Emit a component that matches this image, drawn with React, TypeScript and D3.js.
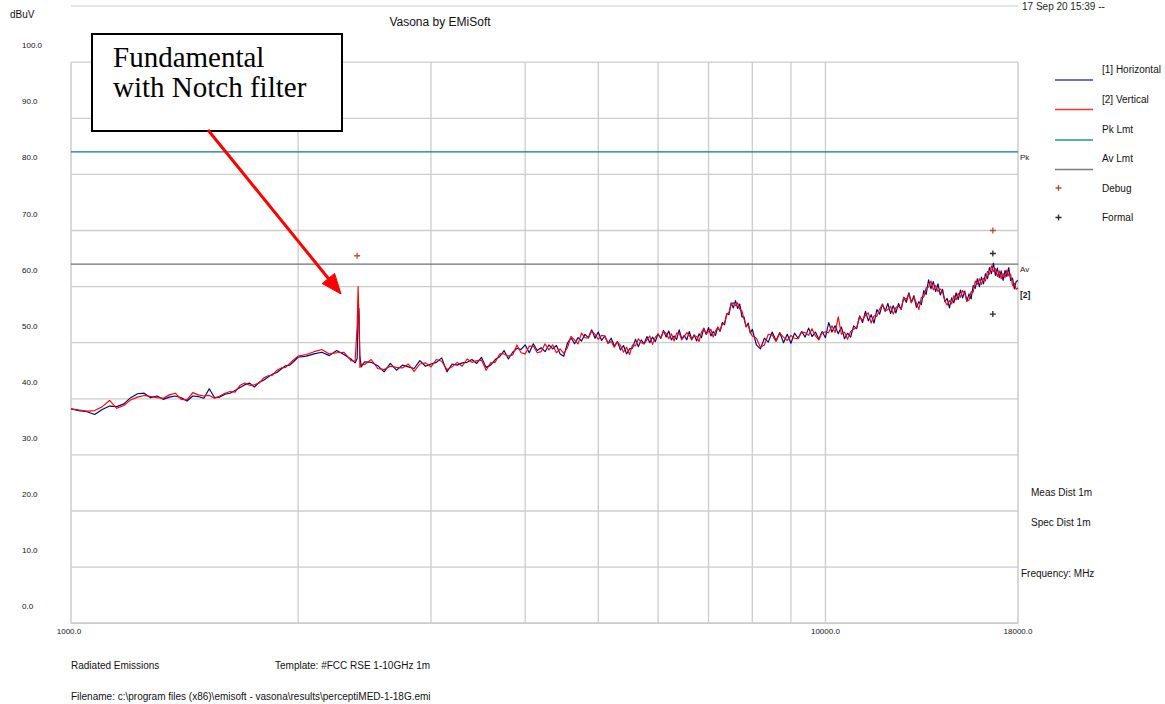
import React from "react";
import * as d3 from "d3";

// Frequency grid (MHz)
const freqs: number[] = [
  1000, 1025, 1050, 1075, 1100, 1125, 1150, 1175, 1200, 1225,
  1250, 1275, 1300, 1325, 1350, 1375, 1400, 1425, 1450, 1475,
  1500, 1525, 1550, 1575, 1600, 1625, 1650, 1675, 1700, 1725,
  1750, 1775, 1800, 1825, 1850, 1875, 1900, 1925, 1950, 1975, 2000,
  2050, 2100, 2150, 2200, 2250, 2300, 2350, 2380, 2395, 2402, 2408, 2415, 2425, 2450,
  2500, 2550, 2600, 2650, 2700, 2750, 2800, 2850, 2900, 2950,
  3000, 3050, 3100, 3150, 3200, 3250, 3300, 3350, 3400, 3450,
  3500, 3550, 3600, 3650, 3700, 3750, 3800, 3850, 3900, 3950, 4000,
  4050, 4100, 4150, 4200, 4250, 4300, 4350, 4400, 4450, 4500,
  4550, 4600, 4650, 4700, 4750, 4800, 4850, 4900, 4950, 5000,
  5050, 5100, 5150, 5200, 5250, 5300, 5350, 5400, 5450, 5500,
  5550, 5600, 5650, 5700, 5750, 5800, 5850, 5900, 5950, 6000,
  6050, 6100, 6150, 6200, 6250, 6300, 6350, 6400, 6450, 6500,
  6550, 6600, 6650, 6700, 6750, 6800, 6850, 6900, 6950, 7000,
  7050, 7100, 7150, 7200, 7250, 7300, 7350, 7400, 7450, 7500,
  7550, 7600, 7650, 7700, 7750, 7800, 7850, 7900, 7950, 8000,
  8100, 8200, 8300, 8400, 8500, 8600, 8700, 8800, 8900, 9000,
  9100, 9200, 9300, 9400, 9500, 9600, 9700, 9800, 9900, 10000,
  10100, 10200, 10300, 10400, 10500, 10600, 10700, 10800, 10900, 11000,
  11100, 11200, 11300, 11400, 11500, 11600, 11700, 11800, 11900, 12000,
  12100, 12200, 12300, 12400, 12500, 12600, 12700, 12800, 12900, 13000,
  13100, 13200, 13300, 13400, 13500, 13600, 13700, 13800, 13900, 14000,
  14100, 14200, 14300, 14400, 14500, 14600, 14700, 14800, 14900, 15000,
  15100, 15200, 15300, 15400, 15500, 15600, 15700, 15800, 15900, 16000,
  16100, 16200, 16300, 16400, 16500, 16600, 16700, 16800, 16900, 17000,
  17100, 17200, 17300, 17400, 17500, 17600, 17700, 17800, 17900, 18000,
];

// [1] Horizontal (dBuV)
const horizontal: number[] = [
  38.2, 37.9, 37.7, 37.2, 38.1, 38.7, 38.6, 39.1, 40.2, 40.9,
  41.0, 40.2, 40.5, 39.9, 40.3, 40.5, 40.2, 39.6, 40.5, 40.4,
  40.1, 41.8, 40.2, 40.3, 40.8, 41.0, 41.5, 42.0, 42.5, 42.8,
  42.1, 42.9, 43.3, 43.9, 44.4, 44.7, 45.3, 45.9, 46.0, 46.7, 47.4,
  47.6, 48.0, 48.3, 47.7, 48.6, 47.9, 47.1, 46.4, 47.2, 56.4, 56.0, 47.6, 45.7, 46.6,
  46.5, 45.9, 44.8, 46.3, 45.1, 46.0, 45.7, 45.4, 46.8, 45.8,
  46.2, 46.5, 47.3, 44.8, 46.2, 46.0, 46.4, 46.5, 47.0, 46.3,
  47.4, 45.6, 46.0, 47.0, 47.5, 48.6, 47.1, 48.3, 49.0, 48.8, 49.6,
  48.2, 49.8, 48.6, 49.1, 48.4, 49.6, 48.9, 49.5, 48.0, 47.6,
  49.9, 50.9, 49.8, 50.9, 50.3, 51.5, 50.9, 52.3, 50.8, 51.9,
  50.4, 51.2, 49.9, 50.8, 49.4, 50.2, 48.7, 49.5, 48.0, 48.9,
  49.0, 50.6, 49.3, 50.5, 49.8, 51.1, 50.0, 51.0, 50.2, 51.6,
  50.8, 52.2, 51.0, 52.1, 50.5, 51.2, 50.6, 52.3, 50.7, 51.3,
  50.5, 52.0, 50.6, 51.4, 50.3, 51.6, 50.9, 52.6, 51.5, 52.7,
  51.2, 52.0, 51.3, 52.8, 52.0, 53.6, 53.2, 55.2, 55.0, 57.1,
  56.2, 57.5, 56.1, 56.9, 54.6, 54.6, 52.8, 53.5, 51.7, 52.4,
  49.6, 48.9, 50.8, 50.1, 51.9, 50.4, 51.8, 50.0, 51.5, 49.9,
  51.7, 50.8, 52.0, 51.0, 52.6, 51.1, 51.9, 50.6, 52.0, 50.9,
  53.6, 51.9, 53.0, 51.6, 52.8, 50.7, 51.7, 51.0, 53.0, 52.5,
  54.8, 53.6, 55.6, 53.9, 55.0, 53.5, 55.9, 55.1, 56.9, 55.6,
  57.0, 55.2, 56.6, 55.3, 57.0, 55.9, 58.1, 57.2, 58.9, 57.2,
  58.4, 56.3, 57.3, 56.8, 59.3, 58.6, 61.2, 59.6, 60.9, 59.1,
  60.5, 58.5, 59.5, 57.3, 57.9, 56.2, 58.0, 57.1, 58.9, 57.7,
  59.4, 58.0, 59.2, 57.4, 58.7, 57.8, 60.2, 59.7, 61.4, 60.0,
  61.7, 60.5, 62.3, 61.4, 63.4, 62.3, 64.2, 62.0, 63.3, 61.6,
  62.8, 61.1, 62.9, 61.8, 63.4, 61.1, 61.5, 59.6, 60.9, 61.1,
];

// [2] Vertical (dBuV)
const vertical: number[] = [
  38.2, 38.0, 37.8, 37.9, 38.6, 39.7, 38.3, 38.8, 39.8, 40.3,
  40.6, 40.4, 40.2, 40.1, 40.7, 41.0, 39.9, 39.8, 41.1, 40.7,
  40.5, 40.6, 40.1, 40.5, 41.0, 41.3, 41.2, 42.4, 42.8, 42.4,
  42.5, 42.8, 43.7, 44.1, 44.2, 45.1, 45.5, 45.6, 46.3, 47.0, 47.6,
  47.9, 48.4, 48.8, 48.0, 48.2, 48.3, 46.8, 46.7, 53.0, 60.0, 54.5, 45.6, 46.2, 46.1,
  47.0, 45.4, 45.2, 45.8, 45.6, 45.5, 46.2, 44.9, 46.2, 46.4,
  45.7, 47.0, 46.7, 45.2, 45.7, 46.5, 45.8, 47.1, 46.5, 46.8,
  46.9, 45.1, 46.4, 46.5, 48.0, 48.0, 47.6, 47.8, 49.6, 48.2, 48.0,
  49.4, 49.4, 48.2, 48.4, 49.8, 48.7, 49.6, 48.2, 48.9, 48.1,
  49.1, 51.1, 50.5, 49.8, 51.7, 50.9, 50.8, 52.1, 51.5, 50.6,
  51.3, 51.2, 49.9, 50.2, 49.2, 50.2, 49.5, 48.3, 49.2, 47.9,
  49.6, 49.4, 50.7, 50.0, 49.8, 50.5, 51.2, 49.7, 51.0, 51.5,
  50.8, 52.0, 51.7, 50.7, 51.6, 50.3, 51.7, 51.7, 50.5, 51.1,
  51.8, 51.3, 50.5, 51.3, 51.1, 50.2, 51.9, 52.5, 51.5, 52.0,
  52.4, 51.0, 52.1, 52.7, 52.2, 53.3, 53.5, 55.1, 55.4, 56.9,
  57.1, 56.6, 57.1, 56.0, 55.7, 54.2, 52.9, 53.2, 51.9, 51.2,
  50.8, 49.2, 49.6, 51.5, 51.4, 50.2, 51.7, 51.0, 50.4, 51.3,
  50.8, 50.7, 51.9, 51.8, 51.3, 52.5, 51.2, 50.5, 51.8, 51.9,
  51.8, 53.0, 51.8, 54.6, 51.5, 51.9, 50.6, 52.0, 52.4, 52.7,
  54.6, 54.0, 54.9, 55.3, 53.5, 54.8, 54.7, 56.0, 56.8, 55.7,
  55.9, 56.5, 55.1, 56.3, 56.5, 56.0, 58.1, 57.7, 58.6, 57.1,
  58.1, 57.1, 55.9, 58.1, 58.1, 59.8, 59.9, 61.0, 59.4, 60.2,
  59.1, 59.6, 59.0, 57.4, 56.7, 57.5, 56.9, 58.4, 57.6, 58.8,
  58.1, 59.3, 58.8, 57.4, 57.6, 59.1, 59.0, 61.0, 60.4, 61.4,
  60.4, 61.5, 61.0, 62.7, 62.2, 63.7, 62.7, 63.2, 61.8, 62.8,
  61.4, 62.3, 61.6, 63.0, 61.9, 62.2, 60.2, 60.6, 59.5, 59.8,
];

const yTicks: number[] = [0, 10, 20, 30, 40, 50, 60, 70, 80, 90, 100];
const xGrid: number[] = [2000, 3000, 4000, 5000, 6000, 7000, 8000, 9000, 10000];
const xLabels: number[] = [1000, 10000, 18000];
const pkLimit = 84.0;
const avLimit = 64.0;
const debugFreqs: number[] = [2395, 16670];
const debugValues: number[] = [65.5, 70.0];
const formalFreqs: number[] = [16670, 16670];
const formalValues: number[] = [65.9, 55.1];

const legendLabels: string[] = ["[1] Horizontal", "[2] Vertical", "Pk Lmt", "Av Lmt", "Debug", "Formal"];

const SANS = "'Liberation Sans', Arial, Helvetica, sans-serif";
const SERIF = "'Liberation Serif', 'Times New Roman', serif";
const BLUE = "#000080";
const RED = "#ff0000";
const TEAL = "#008080";
const GRAY = "#707070";
const GRID = "#cccccc";
const DEBUG = "#b4523c";
const FORMAL = "#2a2a2a";

function Plus({ cx, cy, color }: { cx: number; cy: number; color: string }) {
  return (
    <path
      d={`M${cx - 3},${cy}H${cx + 3}M${cx},${cy - 3}V${cy + 3}`}
      stroke={color}
      strokeWidth={1.3}
      fill="none"
    />
  );
}

export default function App() {
  const W = 1165;
  const H = 704;
  const x = d3.scaleLog().domain([1000, 18000]).range([71, 1018]);
  const y = d3.scaleLinear().domain([0, 100]).range([623.2, 62.2]);
  const n = Math.min(freqs.length, horizontal.length, vertical.length);
  const line = d3
    .line<number>()
    .x((_, i) => x(freqs[i]))
    .y((d) => y(d));
  const hPath = line(horizontal.slice(0, n)) || "";
  const vPath = line(vertical.slice(0, n)) || "";
  const [x0, x1] = x.range();
  const [yb, yt] = y.range();

  const legendY = [69, 99, 129, 158, 188, 217.5];

  // arrow
  const ax0 = 208, ay0 = 130, ax1 = 341, ay1 = 294;
  const ang = Math.atan2(ay1 - ay0, ax1 - ax0);
  const hl = 20, hw = 8;
  const bx = ax1 - hl * Math.cos(ang);
  const by = ay1 - hl * Math.sin(ang);
  const px = -Math.sin(ang) * hw;
  const py = Math.cos(ang) * hw;

  return (
    <svg
      width={W}
      height={H}
      style={{ position: "absolute", left: 0, top: 0, background: "#fff" }}
      fontFamily={SANS}
    >
      <rect x={0} y={0} width={W} height={H} fill="#fff" />
      {/* header line and texts */}
      <line x1={71} x2={1018} y1={6} y2={6} stroke={GRID} strokeWidth={1.2} />
      <text x={1022} y={10} fontSize={10} fill="#222">17 Sep 20 15:39 --</text>
      <text x={440} y={26} fontSize={12} textAnchor="middle" fill="#111">Vasona by EMiSoft</text>
      <text x={10} y={18} fontSize={10} fill="#111">dBuV</text>

      {/* horizontal gridlines and y labels */}
      {yTicks.map((t) => (
        <g key={"y" + t}>
          <line x1={x0} x2={x1} y1={y(t)} y2={y(t)} stroke={GRID} strokeWidth={1.3} />
          <text x={22} y={y(t) - 14} fontSize={8} fill="#111">
            {t.toFixed(1)}
          </text>
        </g>
      ))}
      {/* vertical gridlines */}
      {xGrid.map((f) => (
        <line key={"x" + f} x1={x(f)} x2={x(f)} y1={yt} y2={yb} stroke={GRID} strokeWidth={1.3} />
      ))}
      <line x1={x0} x2={x0} y1={yt} y2={yb} stroke={GRID} strokeWidth={1.5} />
      <line x1={x1} x2={x1} y1={yt} y2={yb} stroke={GRID} strokeWidth={1.5} />
      <line x1={x0} x2={x1} y1={yb} y2={yb} stroke={GRID} strokeWidth={1.5} />
      {xLabels.map((f) => (
        <text key={"xl" + f} x={f === 1000 ? x(f) - 2 : x(f)} y={634} fontSize={8} textAnchor="middle" fill="#111">
          {f.toFixed(1)}
        </text>
      ))}

      {/* limit lines */}
      <line x1={x0} x2={x1} y1={y(pkLimit)} y2={y(pkLimit)} stroke={TEAL} strokeWidth={1.2} />
      <line x1={x0} x2={x1} y1={y(avLimit)} y2={y(avLimit)} stroke={GRAY} strokeWidth={1.2} />
      <text x={1020} y={y(pkLimit) + 8} fontSize={8} fill="#222">Pk</text>
      <text x={1020} y={y(avLimit) + 8} fontSize={8} fill="#222">Av</text>

      {/* traces */}
      <path d={hPath} fill="none" stroke={BLUE} strokeWidth={1.15} strokeLinejoin="round" />
      <path d={vPath} fill="none" stroke={RED} strokeWidth={1.15} strokeLinejoin="round" />
      <text x={1020} y={y(vertical[n - 1]) + 10} fontSize={8.5} fontWeight="bold" fill="#111">[2]</text>

      {/* markers */}
      {debugFreqs.map((f, i) => (
        <Plus key={"d" + i} cx={x(f)} cy={y(debugValues[i])} color={DEBUG} />
      ))}
      {formalFreqs.map((f, i) => (
        <Plus key={"f" + i} cx={x(f)} cy={y(formalValues[i])} color={FORMAL} />
      ))}

      {/* legend */}
      {legendLabels.map((lab, i) => (
        <text key={lab} x={1102} y={legendY[i] + 3.5} fontSize={10} fill="#111">
          {lab}
        </text>
      ))}
      <line x1={1055} x2={1093} y1={80} y2={80} stroke={BLUE} strokeWidth={1.5} opacity={0.75} />
      <line x1={1055} x2={1093} y1={109.5} y2={109.5} stroke={RED} strokeWidth={1.5} opacity={0.8} />
      <line x1={1055} x2={1093} y1={140} y2={140} stroke={TEAL} strokeWidth={1.5} opacity={0.85} />
      <line x1={1055} x2={1093} y1={169.5} y2={169.5} stroke={GRAY} strokeWidth={1.5} opacity={0.9} />
      <Plus cx={1058.5} cy={188} color={DEBUG} />
      <Plus cx={1058.5} cy={217.5} color={FORMAL} />

      {/* side info */}
      <text x={1031} y={496} fontSize={10} fill="#111">Meas Dist 1m</text>
      <text x={1031} y={526} fontSize={10} fill="#111">Spec Dist 1m</text>
      <text x={1021} y={577} fontSize={10} fill="#111">Frequency: MHz</text>

      {/* footer */}
      <text x={71} y={669} fontSize={10} fill="#111">Radiated Emissions</text>
      <text x={275} y={669} fontSize={10} fill="#111">Template: #FCC RSE 1-10GHz 1m</text>
      <text x={71} y={700} fontSize={10} fill="#111">
        Filename: c:\program files (x86)\emisoft - vasona\results\perceptiMED-1-18G.emi
      </text>

      {/* annotation */}
      <rect x={92} y={34} width={250} height={97} fill="#fff" stroke="#000" strokeWidth={2} />
      <text x={113} y={67} fontFamily={SERIF} fontSize={29} fill="#000">Fundamental</text>
      <text x={113} y={97} fontFamily={SERIF} fontSize={29} fill="#000">with Notch filter</text>
      <line x1={ax0} y1={ay0} x2={bx} y2={by} stroke={RED} strokeWidth={3} />
      <path
        d={`M${ax1},${ay1}L${bx + px},${by + py}L${bx - px},${by - py}Z`}
        fill={RED}
        stroke={RED}
        strokeWidth={1}
      />
    </svg>
  );
}
